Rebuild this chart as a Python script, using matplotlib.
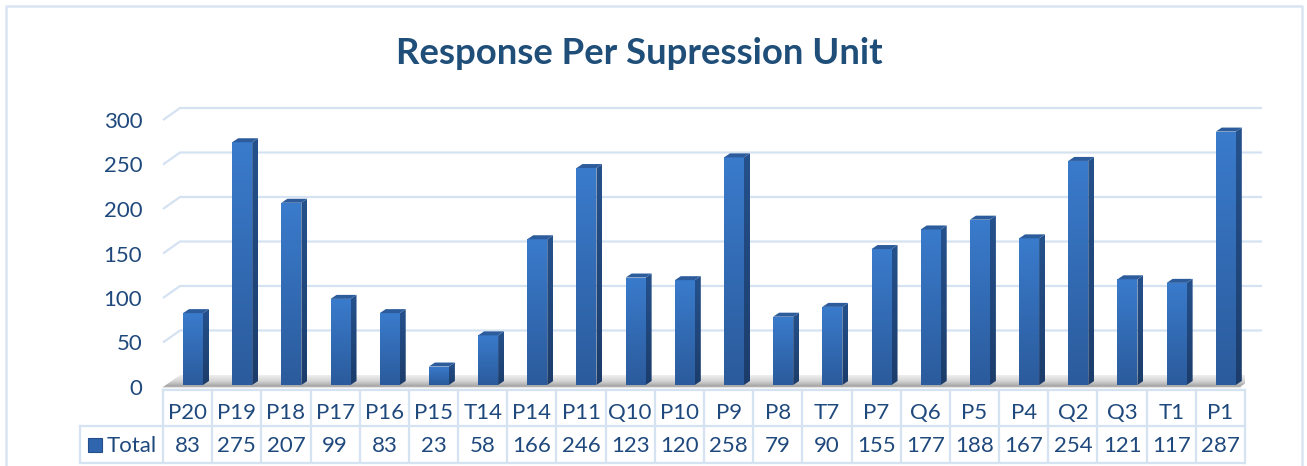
import matplotlib.pyplot as plt
import numpy as np
from matplotlib.colors import LinearSegmentedColormap
from matplotlib.patches import Polygon, Rectangle

# ------------------- DATA -------------------
units = ["P20", "P19", "P18", "P17", "P16", "P15", "T14", "P14", "P11", "Q10", "P10",
         "P9", "P8", "T7", "P7", "Q6", "P5", "P4", "Q2", "Q3", "T1", "P1"]
totals = [83, 275, 207, 99, 83, 23, 58, 166, 246, 123, 120,
          258, 79, 90, 155, 177, 188, 167, 254, 121, 117, 287]
y_ticks = [0, 50, 100, 150, 200, 250, 300]
series_name = "Total"
title = "Response Per Supression Unit"

plt.rcParams['font.family'] = ['Lato', 'DejaVu Sans']
TXT = "#1f497d"
GRID = "#d5e2f2"

W, H = 1307, 466
fig = plt.figure(figsize=(W / 100, H / 100), dpi=100)

# layout in pixels
left, right = 163, 1245
floor_y = 387
px_per_unit = 267 / 300
n = len(units)
cw = (right - left) / n

ax = fig.add_axes([left / W, (H - floor_y) / H, (right - left) / W, 300 * px_per_unit / H])
ax.set_xlim(-0.5, n - 0.5)
ax.set_ylim(0, 300)

# 3D depth offsets in data units
dep_x = 17 / cw
dep_y = 12 / px_per_unit

# ------------------- BACK WALL GRIDLINES -------------------
for v in y_ticks[1:]:
    ax.plot([-0.5, -0.5 + dep_x, n - 0.5 + dep_x], [v, v + dep_y, v + dep_y],
            color=GRID, lw=1.6, clip_on=False, zorder=1, solid_capstyle='butt')

# ------------------- FLOOR -------------------
floor_pts = [(-0.5, 0), (n - 0.6, 0), (n - 0.6 + dep_x, dep_y), (-0.5 + dep_x, dep_y)]
floor = Polygon(floor_pts, closed=True, facecolor='none', edgecolor='none', zorder=2)
ax.add_patch(floor)
floor_cmap = LinearSegmentedColormap.from_list('floor', ['#9e9e9e', '#d4d4d4', '#eeeeee'])
im = ax.imshow(np.linspace(0, 1, 50).reshape(-1, 1), cmap=floor_cmap, origin='lower',
               extent=[-0.5, n - 0.6 + dep_x, 0, dep_y], aspect='auto', zorder=2)
im.set_clip_path(floor)
ax.plot([-0.5, n - 0.6], [0, 0], color='#e4e4e4', lw=1, zorder=2.5, clip_on=False)

# ------------------- BARS -------------------
front_cmap = LinearSegmentedColormap.from_list('front', ['#2b5b9c', '#3a7bcc'])
side_cmap = LinearSegmentedColormap.from_list('side', ['#1c3d6b', '#25518c'])
bw = 20 / cw
shift = 5.4 / cw
base = 2 / px_per_unit
bx = 6 / cw
by = 4.5
grad = np.linspace(0, 1, 100).reshape(-1, 1)

bars = ax.bar(np.arange(n) + shift, np.array(totals) - base, bottom=base, width=bw,
              color='none', edgecolor='none', zorder=4)
for rect in bars:
    x0 = rect.get_x()
    x1 = x0 + rect.get_width()
    y0 = rect.get_y()
    y1 = y0 + rect.get_height()
    im = ax.imshow(grad, cmap=front_cmap, origin='lower', extent=[x0, x1, y0, y1],
                   aspect='auto', zorder=4)
    im.set_clip_path(rect)
    side = Polygon([(x1, y0), (x1 + bx, y0 + by), (x1 + bx, y1 + by), (x1, y1)],
                   closed=True, facecolor='none', edgecolor='none', zorder=4)
    ax.add_patch(side)
    im = ax.imshow(grad, cmap=side_cmap, origin='lower', extent=[x1, x1 + bx, y0, y1 + by],
                   aspect='auto', zorder=4)
    im.set_clip_path(side)
    ax.add_patch(Polygon([(x0, y1), (x1, y1), (x1 + bx, y1 + by), (x0 + bx, y1 + by)],
                         closed=True, facecolor='#2c5c9b', edgecolor='none', zorder=5))

ax.set_xlim(-0.5, n - 0.5)
ax.set_ylim(0, 300)
for s in ax.spines.values():
    s.set_visible(False)
ax.set_xticks([])
ax.set_yticks(y_ticks)
ax.tick_params(axis='y', length=0, pad=15, labelsize=16, labelcolor=TXT)
ax.patch.set_alpha(0)

# ------------------- TITLE -------------------
fig.text(639 / W, 1 - 64 / H, title, ha='center', va='baseline', fontsize=26.3,
         fontweight='bold', color='#1f4e79')

# ------------------- DATA TABLE -------------------
lay = fig.add_axes([0, 0, 1, 1], zorder=-1)
lay.set_xlim(0, W)
lay.set_ylim(H, 0)
lay.axis('off')

r0, r1, r2 = 390, 426, 463
tot_left = 80
edges = left + cw * np.arange(n + 1)
lay.plot([left, right], [r0, r0], color=GRID, lw=1.6)
lay.plot([tot_left, right], [r1, r1], color=GRID, lw=1.6)
lay.plot([tot_left, right], [r2, r2], color=GRID, lw=1.6)
for e in edges:
    lay.plot([e, e], [r0, r2], color=GRID, lw=1.6)
lay.plot([tot_left, tot_left], [r1, r2], color=GRID, lw=1.6)

for i, (u, v) in enumerate(zip(units, totals)):
    cx = left + cw * (i + 0.5)
    lay.text(cx, 413, u, ha='center', va='center', fontsize=16, color=TXT)
    lay.text(cx, 446, str(v), ha='center', va='center', fontsize=16, color=TXT)

lay.add_patch(Rectangle((88, 438), 14, 14, facecolor='#2f65ad', edgecolor='#254f8a', lw=0.8))
lay.text(107, 446, series_name, ha='left', va='center', fontsize=16, color=TXT)

# outer chart border
lay.plot([6, 6, 1302, 1302], [H, 6, 6, H], color='#d9e5f3', lw=1.8)

fig.savefig("out.png", dpi=100)
